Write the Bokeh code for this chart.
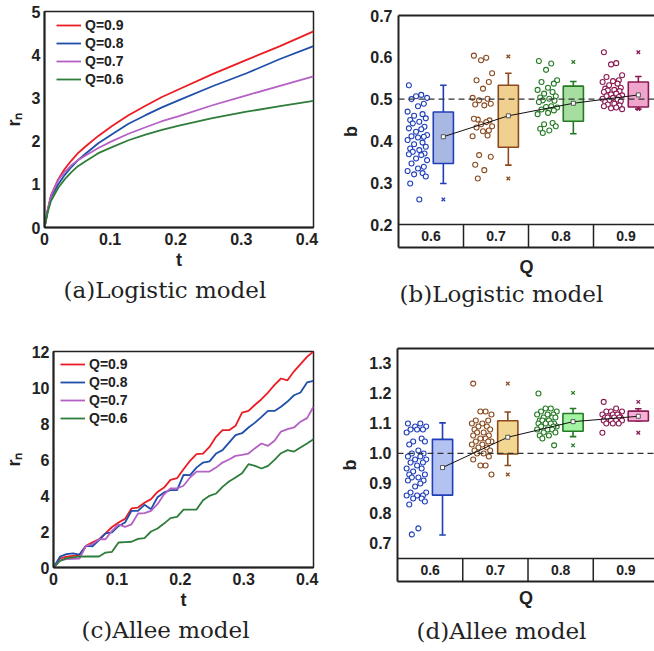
from bokeh.plotting import figure
from bokeh.layouts import column, row
from bokeh.models import (Range1d, FixedTicker, PrintfTickFormatter, LinearAxis,
                          Span, Title, Legend, LegendItem)
from bokeh.core.properties import value
from bokeh.embed import file_html
from bokeh.resources import INLINE

# ---------------- data ----------------
q_labels = ["0.6", "0.7", "0.8", "0.9"]
legend_labels = ["Q=0.9", "Q=0.8", "Q=0.7", "Q=0.6"]

# (a) Logistic model: r_n vs t
t_a = [0, 0.005, 0.01, 0.021, 0.031, 0.041, 0.051, 0.062, 0.082, 0.103, 0.128,
       0.154, 0.179, 0.205, 0.256, 0.308, 0.359, 0.41]
a_q09 = [0, 0.42, 0.75, 1.12, 1.36, 1.55, 1.72, 1.87, 2.12, 2.35, 2.6, 2.82, 3.02,
         3.2, 3.55, 3.88, 4.2, 4.54]
a_q08 = [0, 0.40, 0.70, 1.0, 1.22, 1.4, 1.56, 1.7, 1.95, 2.16, 2.4, 2.6, 2.78,
         2.95, 3.27, 3.57, 3.9, 4.2]
a_q07 = [0, 0.42, 0.74, 1.1, 1.29, 1.44, 1.56, 1.66, 1.84, 2.0, 2.17, 2.32, 2.46,
         2.58, 2.83, 3.06, 3.28, 3.5]
a_q06 = [0, 0.36, 0.62, 0.92, 1.12, 1.28, 1.42, 1.53, 1.72, 1.86, 2.02, 2.15, 2.26,
         2.36, 2.53, 2.68, 2.81, 2.93]

# (c) Allee model: r_n vs t
t_c = [0, 0.0103, 0.0205, 0.0308, 0.041, 0.0513, 0.0615, 0.0718, 0.082, 0.0923,
       0.1025, 0.1128, 0.123, 0.1333, 0.1435, 0.1538, 0.164, 0.1743, 0.1845, 0.1948,
       0.205, 0.2153, 0.2255, 0.2358, 0.246, 0.2563, 0.2665, 0.2768, 0.287, 0.2973,
       0.3075, 0.3178, 0.328, 0.3383, 0.3485, 0.3588, 0.369, 0.3793, 0.3895, 0.3998, 0.41]
c_q09 = [0, 0.5, 0.6, 0.65, 0.7, 1.2, 1.4, 1.57, 1.9, 2.25, 2.5, 2.7, 3.28, 3.33,
         3.6, 3.8, 4.2, 4.44, 4.87, 4.96, 5.46, 5.93, 6.3, 6.33, 6.7, 7.26, 7.63,
         7.63, 7.87, 8.6, 8.7, 9.04, 9.35, 9.72, 10.15, 10.5, 10.4, 10.9, 11.3, 11.7, 12.0]
c_q08 = [0, 0.6, 0.74, 0.78, 0.72, 1.2, 1.18, 1.52, 1.9, 1.95, 2.3, 2.5, 3.15, 3.15,
         3.48, 3.24, 3.9, 4.17, 4.3, 4.3, 5.15, 5.13, 5.55, 5.83, 5.9, 6.33, 6.52,
         6.94, 7.35, 7.46, 7.78, 8.05, 8.37, 8.7, 8.7, 8.93, 9.22, 9.57, 9.72, 10.28, 10.37]
c_q07 = [0, 0.4, 0.46, 0.48, 0.5, 1.2, 1.3, 1.57, 1.57, 2.04, 2.4, 2.26, 2.4, 3.0,
         3.02, 3.15, 3.52, 4.07, 4.39, 4.39, 4.54, 5.0, 5.33, 5.33, 5.33, 5.55, 5.83,
         6.0, 6.2, 6.26, 6.33, 6.63, 6.89, 6.76, 7.04, 7.55, 7.69, 7.78, 8.1, 8.3, 8.93]
c_q06 = [0, 0.37, 0.52, 0.56, 0.6, 0.61, 0.61, 0.61, 0.83, 0.87, 1.39, 1.41, 1.43,
         1.59, 1.63, 2.0, 2.17, 2.44, 2.74, 2.81, 3.22, 3.22, 3.22, 3.74, 3.98, 4.11,
         4.48, 4.78, 5.0, 5.24, 5.74, 5.65, 5.5, 5.65, 5.98, 6.35, 6.52, 6.44, 6.67, 6.89, 7.13]

# (b) Logistic model: b per Q (individual estimates + box statistics)
b_pts_06 = [0.533, 0.51, 0.507, 0.503, 0.50, 0.489, 0.483, 0.47, 0.464, 0.46, 0.454,
            0.45, 0.446, 0.442, 0.434, 0.43, 0.428, 0.422, 0.414, 0.411, 0.41, 0.408,
            0.402, 0.396, 0.392, 0.386, 0.382, 0.378, 0.374, 0.37, 0.368, 0.366, 0.358,
            0.354, 0.346, 0.338, 0.334, 0.328, 0.323, 0.32, 0.315, 0.298, 0.26]
b_pts_07 = [0.604, 0.599, 0.593, 0.562, 0.545, 0.541, 0.525, 0.503, 0.501, 0.497,
            0.489, 0.487, 0.485, 0.451, 0.449, 0.453, 0.445, 0.44, 0.435, 0.432, 0.425,
            0.423, 0.411, 0.413, 0.366, 0.362, 0.343, 0.33, 0.31]
b_pts_08 = [0.591, 0.585, 0.57, 0.545, 0.541, 0.537, 0.527, 0.522, 0.517, 0.513,
            0.507, 0.504, 0.501, 0.497, 0.496, 0.493, 0.483, 0.481, 0.48, 0.475, 0.473,
            0.467, 0.464, 0.443, 0.44, 0.435, 0.429, 0.425, 0.419]
b_pts_09 = [0.612, 0.586, 0.583, 0.557, 0.553, 0.545, 0.543, 0.541, 0.537, 0.533,
            0.527, 0.525, 0.522, 0.521, 0.519, 0.517, 0.513, 0.511, 0.509, 0.507, 0.505,
            0.503, 0.501, 0.499, 0.497, 0.495, 0.493, 0.489, 0.487, 0.485, 0.483, 0.48,
            0.478, 0.476]
b_mean = [0.41, 0.46, 0.49, 0.51]
b_q1 = [0.346, 0.385, 0.447, 0.481]
b_q3 = [0.469, 0.533, 0.531, 0.541]
b_lo = [0.298, 0.342, 0.417, 0.476]
b_hi = [0.533, 0.562, 0.542, 0.554]
b_out_group = [0, 1, 1, 2, 3, 3]
b_out_val = [0.26, 0.602, 0.31, 0.589, 0.612, 0.476]

# (d) Allee model
d_pts_06 = [1.10, 1.10, 1.09, 1.09, 1.08, 1.08, 1.08, 1.07, 1.05, 1.04, 1.04, 1.03,
            1.01, 1.00, 1.00, 0.99, 0.99, 0.98, 0.98, 0.97, 0.97, 0.96, 0.95, 0.95,
            0.94, 0.93, 0.93, 0.92, 0.92, 0.91, 0.91, 0.90, 0.89, 0.87, 0.87, 0.86,
            0.86, 0.86, 0.85, 0.85, 0.84, 0.83, 0.75, 0.73]
d_pts_07 = [1.233, 1.14, 1.14, 1.13, 1.11, 1.11, 1.10, 1.10, 1.09, 1.09, 1.08, 1.08,
            1.07, 1.07, 1.06, 1.06, 1.05, 1.05, 1.04, 1.04, 1.04, 1.03, 1.03, 1.02,
            1.02, 1.01, 1.01, 1.00, 1.00, 0.99, 0.98, 0.96, 0.96, 0.93]
d_pts_08 = [1.20, 1.15, 1.15, 1.14, 1.14, 1.13, 1.13, 1.13, 1.12, 1.12, 1.12, 1.11,
            1.11, 1.11, 1.10, 1.10, 1.10, 1.10, 1.09, 1.09, 1.09, 1.08, 1.08, 1.08,
            1.07, 1.07, 1.06, 1.06, 1.05, 1.027]
d_pts_09 = [1.172, 1.15, 1.14, 1.14, 1.14, 1.13, 1.13, 1.13, 1.13, 1.12, 1.12, 1.12,
            1.12, 1.12, 1.12, 1.11, 1.11, 1.11, 1.11, 1.10, 1.10, 1.10, 1.069]
d_mean = [0.953, 1.054, 1.106, 1.124]
d_q1 = [0.861, 0.998, 1.074, 1.108]
d_q3 = [1.047, 1.109, 1.133, 1.141]
d_lo = [0.728, 0.960, 1.056, 1.108]
d_hi = [1.102, 1.138, 1.150, 1.149]
d_out_group = [1, 1, 2, 2, 3, 3]
d_out_val = [1.233, 0.93, 1.202, 1.027, 1.172, 1.069]

# ---------------- style ----------------
SANS = "Liberation Sans"
SERIF = "DejaVu Serif"
AX = "#222222"
LINE_COLORS = ["#ec1c24", "#1f4fa8", "#b460c4", "#2e7d3a"]  # Q=0.9, 0.8, 0.7, 0.6
EDGE = ["#1f3fb8", "#8b4a1e", "#237a23", "#8a1a52"]
FILL = ["#a9b8e2", "#f0d08e", "#a6dea0", "#f0a6cc"]
FILL_D = ["#b4c2f2", "#f2d792", "#a4f4a4", "#f6b0d8"]
JIT = [-0.13, 0.06, -0.02, 0.15, -0.09, 0.10, 0.01, -0.15, 0.08, -0.05, 0.13,
       -0.11, 0.03, -0.07, 0.11]
SCAT_OFF = 0.29
BOX_OFF = 0.69
BOX_HW = 0.155
CAP_HW = 0.05


def style(p, xstand=5, ystand=4):
    for ax in p.axis:
        ax.axis_line_width = 2
        ax.axis_line_color = AX
        ax.major_tick_line_color = None
        ax.minor_tick_line_color = None
        ax.major_tick_out = 0
        ax.major_tick_in = 0
        ax.minor_tick_out = 0
        ax.minor_tick_in = 0
        ax.major_label_text_font = SANS
        ax.major_label_text_font_style = "bold"
        ax.major_label_text_font_size = "16px"
        ax.major_label_text_color = AX
        ax.axis_label_text_font = SANS
        ax.axis_label_text_font_style = "bold"
        ax.axis_label_text_font_size = "18px"
        ax.axis_label_text_color = AX
    p.xaxis.major_label_standoff = xstand
    p.yaxis.major_label_standoff = ystand
    p.xgrid.visible = False
    p.ygrid.visible = False
    p.background_fill_color = "white"
    p.border_fill_color = "white"


def caption(p, text, offset, standoff):
    p.add_layout(Title(text=text, align="left", offset=offset, standoff=standoff,
                       text_font=SERIF, text_font_size="23px", text_font_style="normal",
                       text_color="#222222"), "below")


def line_panel(t, series, ymax, yticks, left, top, bottom, height, cap, capoff, capstand,
               legx, legy):
    p = figure(width=327, height=height, x_range=Range1d(0, 0.41), y_range=Range1d(0, ymax),
               output_backend="svg", toolbar_location=None, frame_align=False,
               min_border_left=left, min_border_right=14, min_border_top=top,
               min_border_bottom=bottom)
    style(p)
    p.outline_line_color = AX
    p.outline_line_width = 1.5
    p.outline_line_alpha = 1
    xt = [0, 0.1, 0.2, 0.3, 0.4]
    p.xaxis.ticker = FixedTicker(ticks=xt)
    p.xaxis.major_label_overrides = {0: "0", 0.1: "0.1", 0.2: "0.2", 0.3: "0.3", 0.4: "0.4"}
    p.yaxis.ticker = FixedTicker(ticks=yticks)
    p.xaxis.axis_label = "t"
    p.xaxis.axis_label_standoff = 2
    p.yaxis.axis_label = "r\u2099"
    p.yaxis.axis_label_standoff = 5
    items = []
    for lab, ys, c in zip(legend_labels, series, LINE_COLORS):
        r = p.line(t, ys, line_color=c, line_width=1.8)
        items.append(LegendItem(label=lab, renderers=[r]))
    leg = Legend(items=items, location=(legx, legy), padding=0, margin=0,
                 border_line_alpha=0, background_fill_alpha=0,
                 label_text_font=SANS, label_text_font_style="bold",
                 label_text_font_size="14px", label_text_color=AX,
                 glyph_width=25, glyph_height=16, label_height=16,
                 spacing=2, label_standoff=4)
    p.add_layout(leg)
    caption(p, cap, capoff, capstand)
    return p


def box_panel(groups, mean, q1, q3, lo, hi, og, ov, ylo, yhi, ystrip, yticks,
              left, top, bottom, height, fills, qstand, cap, capoff, capstand, dash_at):
    p = figure(width=327, height=height, x_range=Range1d(0, 256 / 65),
               y_range=Range1d(ystrip, yhi), output_backend="svg", toolbar_location=None,
               frame_align=False,
               min_border_left=left, min_border_right=0, min_border_top=top,
               min_border_bottom=bottom)
    p.outline_line_color = None
    style(p, ystand=6)
    bottom_ax = p.below[0]
    bottom_ax.ticker = FixedTicker(ticks=[])
    bottom_ax.axis_label = "Q"
    bottom_ax.axis_label_standoff = qstand
    topax = LinearAxis(ticker=FixedTicker(ticks=[]), major_label_text_font_size="0px",
                       axis_line_width=2, axis_line_color=AX,
                       major_tick_line_color=None, minor_tick_line_color=None)
    p.add_layout(topax, "above")
    p.yaxis.ticker = FixedTicker(ticks=yticks)
    p.yaxis.formatter = PrintfTickFormatter(format="%.1f")
    p.yaxis.axis_label = "b"
    p.yaxis.axis_label_standoff = 6

    # category strip
    p.add_layout(Span(location=ylo, dimension="width", line_color=AX, line_width=1.5))
    p.segment(x0=[1, 2, 3], y0=[ystrip] * 3, x1=[1, 2, 3], y1=[ylo] * 3,
              line_color=AX, line_width=1.5)
    p.text(x=[i + 0.5 for i in range(4)], y=[(ystrip + ylo) / 2] * 4, text=q_labels,
           text_font=value(SANS), text_font_style="bold", text_font_size="14px",
           text_align="center", text_baseline="middle", text_color=AX)

    # reference dashed line
    p.add_layout(Span(location=dash_at, dimension="width", line_color="#333333",
                      line_width=1.2, line_dash="6 4"))

    for i, pts in enumerate(groups):
        xs = [i + SCAT_OFF + JIT[k % len(JIT)] for k in range(len(pts))]
        p.scatter(xs, pts, marker="circle", size=5, fill_color="white",
                  line_color=EDGE[i], line_width=1.1)
        xc = i + BOX_OFF
        p.segment(x0=[xc, xc], y0=[q3[i], q1[i]], x1=[xc, xc], y1=[hi[i], lo[i]],
                  line_color=EDGE[i], line_width=1.6)
        p.segment(x0=[xc - CAP_HW, xc - CAP_HW], y0=[hi[i], lo[i]],
                  x1=[xc + CAP_HW, xc + CAP_HW], y1=[hi[i], lo[i]],
                  line_color=EDGE[i], line_width=1.6)
        p.quad(left=[xc - BOX_HW], right=[xc + BOX_HW], bottom=[q1[i]], top=[q3[i]],
               fill_color=fills[i], line_color=EDGE[i], line_width=1.6)

    xm = [i + BOX_OFF for i in range(4)]
    p.line(xm, mean, line_color="#111111", line_width=1)
    p.scatter(xm, mean, marker="square", size=4, fill_color="white",
              line_color="#333333", line_width=0.8)
    p.scatter([g + BOX_OFF for g in og], ov, marker="x", size=5,
              line_color=[EDGE[g] for g in og], line_width=1.3)
    caption(p, cap, capoff, capstand)
    return p


pa = line_panel(t_a, [a_q09, a_q08, a_q07, a_q06], 5, [0, 1, 2, 3, 4, 5],
                40, 11, 98, 325, "(a)Logistic model", 19, 5, 12, 140)
pc = line_panel(t_c, [c_q09, c_q08, c_q07, c_q06], 12, [0, 2, 4, 6, 8, 10, 12],
                48, 26, 84, 326, "(c)Allee model", 28, 5, 7, 141)
pb = box_panel([b_pts_06, b_pts_07, b_pts_08, b_pts_09], b_mean, b_q1, b_q3, b_lo, b_hi,
               b_out_group, b_out_val, 0.2, 0.7, 0.145,
               [0.2, 0.3, 0.4, 0.5, 0.6, 0.7], 71, 15, 78, 325, FILL, 9,
               "(b)Logistic model", 1, -2, 0.5)
pd = box_panel([d_pts_06, d_pts_07, d_pts_08, d_pts_09], d_mean, d_q1, d_q3, d_lo, d_hi,
               d_out_group, d_out_val, 0.65, 1.35, 0.573,
               [0.7, 0.8, 0.9, 1.0, 1.1, 1.2, 1.3], 70, 23, 70, 326, FILL_D, 6,
               "(d)Allee model", 19, 10, 1.0)

layout = column(row(pa, pb, spacing=0), row(pc, pd, spacing=0), spacing=0)
open("out.html", "w").write(file_html(layout, INLINE))
